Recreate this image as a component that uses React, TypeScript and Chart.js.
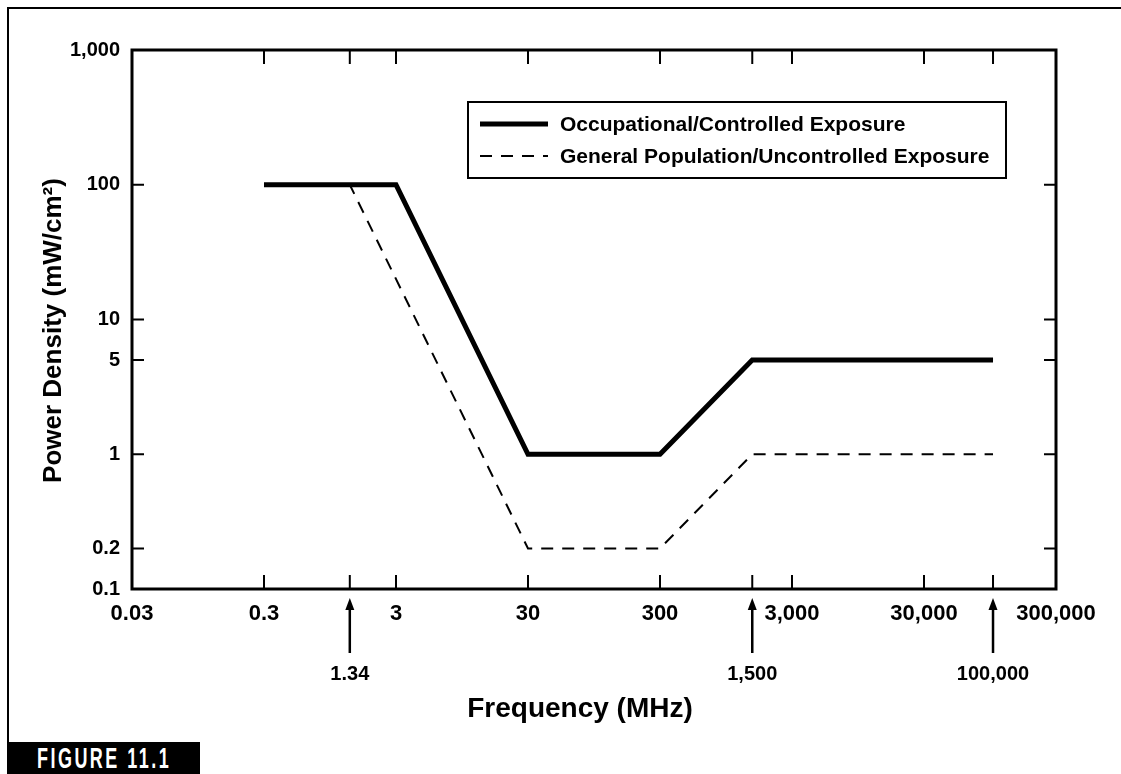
import React, { useEffect, useRef } from "react";
import { Chart, registerables } from "chart.js";

Chart.register(...registerables);

// ---- data ----
const SERIES_NAMES = [
  "Occupational/Controlled Exposure",
  "General Population/Uncontrolled Exposure",
];
const FREQ_OCC = [0.3, 3, 30, 300, 1500, 100000];
const PD_OCC = [100, 100, 1, 1, 5, 5];
const FREQ_GEN = [0.3, 1.34, 30, 300, 1500, 100000];
const PD_GEN = [100, 100, 0.2, 0.2, 1, 1];

const X_TICKS = [0.03, 0.3, 3, 30, 300, 3000, 30000, 300000];
const X_TICK_LABELS = ["0.03", "0.3", "3", "30", "300", "3,000", "30,000", "300,000"];
const X_MARKS = [0.3, 1.34, 3, 30, 300, 1500, 3000, 30000, 100000];
const Y_TICKS = [0.1, 0.2, 1, 5, 10, 100, 1000];
const Y_TICK_LABELS = ["0.1", "0.2", "1", "5", "10", "100", "1,000"];
const Y_MARKS = [0.2, 1, 5, 10, 100];
const ARROW_VALUES = [1.34, 1500, 100000];
const ARROW_LABELS = ["1.34", "1,500", "100,000"];

const X_TITLE = "Frequency (MHz)";
const Y_TITLE = "Power Density (mW/cm²)";
const FIGURE_LABEL = "FIGURE 11.1";

const FONT = "'Liberation Sans', Arial, Helvetica, sans-serif";

const decorPlugin = {
  id: "decor",
  afterDraw(chart: any) {
    const { ctx, chartArea } = chart;
    const xs = chart.scales.x;
    const ys = chart.scales.y;
    const { left, right, top, bottom } = chartArea;
    ctx.save();
    ctx.strokeStyle = "#000";
    ctx.fillStyle = "#000";
    // axis box
    ctx.lineWidth = 3;
    ctx.strokeRect(left, top, right - left, bottom - top);
    // inward ticks
    ctx.lineWidth = 2;
    X_MARKS.forEach((v) => {
      const x = xs.getPixelForValue(v);
      ctx.beginPath();
      ctx.moveTo(x, bottom);
      ctx.lineTo(x, bottom - 14);
      ctx.moveTo(x, top);
      ctx.lineTo(x, top + 14);
      ctx.stroke();
    });
    Y_MARKS.forEach((v) => {
      const y = ys.getPixelForValue(v);
      ctx.beginPath();
      ctx.moveTo(left, y);
      ctx.lineTo(left + 12, y);
      ctx.moveTo(right, y);
      ctx.lineTo(right - 12, y);
      ctx.stroke();
    });
    // arrows with labels
    ARROW_VALUES.forEach((v, i) => {
      const x = xs.getPixelForValue(v);
      ctx.lineWidth = 2.5;
      ctx.beginPath();
      ctx.moveTo(x, bottom + 18);
      ctx.lineTo(x, bottom + 64);
      ctx.stroke();
      ctx.beginPath();
      ctx.moveTo(x, bottom + 9);
      ctx.lineTo(x - 4.5, bottom + 21);
      ctx.lineTo(x + 4.5, bottom + 21);
      ctx.closePath();
      ctx.fill();
      ctx.font = `bold 20px ${FONT}`;
      ctx.textAlign = "center";
      ctx.textBaseline = "middle";
      ctx.fillText(ARROW_LABELS[i], x, bottom + 85);
    });
    // axis titles
    ctx.font = `bold 28px ${FONT}`;
    ctx.textAlign = "center";
    ctx.textBaseline = "middle";
    ctx.fillText(X_TITLE, 580, bottom + 120);
    ctx.save();
    ctx.translate(54, (top + bottom) / 2 + 11);
    ctx.rotate(-Math.PI / 2);
    ctx.font = `bold 26px ${FONT}`;
    ctx.fillText(Y_TITLE, 0, 0);
    ctx.restore();
    // legend
    const lx = 468, ly = 102, lw = 538, lh = 76;
    ctx.lineWidth = 2;
    ctx.fillStyle = "#fff";
    ctx.fillRect(lx, ly, lw, lh);
    ctx.strokeRect(lx, ly, lw, lh);
    ctx.fillStyle = "#000";
    const rows = [ly + 22, ly + 54];
    chart.data.datasets.forEach((ds: any, i: number) => {
      const y = rows[i];
      ctx.lineWidth = ds.borderWidth;
      ctx.setLineDash(ds.borderDash || []);
      ctx.beginPath();
      ctx.moveTo(480, y);
      ctx.lineTo(548, y);
      ctx.stroke();
      ctx.setLineDash([]);
      ctx.font = `bold 21px ${FONT}`;
      ctx.textAlign = "left";
      ctx.textBaseline = "middle";
      ctx.fillText(ds.label, 560, y + 1);
    });
    ctx.restore();
  },
};

export default function App() {
  const ref = useRef<HTMLCanvasElement | null>(null);
  useEffect(() => {
    if (!ref.current) return;
    const chart = new Chart(ref.current, {
      type: "line",
      data: {
        datasets: [
          {
            label: SERIES_NAMES[0],
            data: FREQ_OCC.map((f, i) => ({ x: f, y: PD_OCC[i] })),
            borderColor: "#000",
            borderWidth: 5,
            pointRadius: 0,
            tension: 0,
            fill: false,
          },
          {
            label: SERIES_NAMES[1],
            data: FREQ_GEN.map((f, i) => ({ x: f, y: PD_GEN[i] })),
            borderColor: "#000",
            borderWidth: 2,
            borderDash: [12, 9],
            pointRadius: 0,
            tension: 0,
            fill: false,
          },
        ],
      },
      options: {
        animation: false,
        responsive: false,
        maintainAspectRatio: false,
        layout: { padding: { top: 50, right: 65, left: 0, bottom: 0 } },
        plugins: { legend: { display: false }, tooltip: { enabled: false } },
        scales: {
          x: {
            type: "logarithmic",
            min: 0.03,
            max: 300000,
            afterBuildTicks: (s: any) => {
              s.ticks = X_TICKS.map((v) => ({ value: v }));
            },
            afterFit: (s: any) => {
              s.height = 185;
            },
            grid: { display: false, drawTicks: false },
            border: { display: false },
            ticks: {
              autoSkip: false,
              maxRotation: 0,
              padding: 12,
              color: "#000",
              font: { family: FONT, size: 22, weight: "bold" },
              callback: (v: any) => {
                const i = X_TICKS.findIndex((t) => Math.abs(t - v) / t < 1e-6);
                return i >= 0 ? X_TICK_LABELS[i] : "";
              },
            },
          },
          y: {
            type: "logarithmic",
            min: 0.1,
            max: 1000,
            afterBuildTicks: (s: any) => {
              s.ticks = Y_TICKS.map((v) => ({ value: v }));
            },
            afterFit: (s: any) => {
              s.width = 132;
            },
            grid: { display: false, drawTicks: false },
            border: { display: false },
            ticks: {
              autoSkip: false,
              padding: 12,
              color: "#000",
              font: { family: FONT, size: 20, weight: "bold" },
              callback: (v: any) => {
                const i = Y_TICKS.findIndex((t) => Math.abs(t - v) / t < 1e-6);
                return i >= 0 ? Y_TICK_LABELS[i] : "";
              },
            },
          },
        },
      },
      plugins: [decorPlugin],
    });
    return () => chart.destroy();
  }, []);

  return (
    <div style={{ position: "fixed", left: 0, top: 0, width: 1121, height: 774, background: "#fff", overflow: "hidden" }}>
      <canvas ref={ref} width={1121} height={774} style={{ position: "absolute", left: 0, top: 0 }} />
      <div style={{ position: "absolute", left: 7, top: 7, width: 1114, height: 2, background: "#000" }} />
      <div style={{ position: "absolute", left: 7, top: 7, width: 2, height: 736, background: "#000" }} />
      <div
        style={{
          position: "absolute",
          left: 7,
          top: 742,
          width: 193,
          height: 32,
          background: "#000",
          overflow: "hidden",
        }}
      >
        <span
          style={{
            position: "absolute",
            left: 30,
            top: 0,
            lineHeight: "32px",
            color: "#fff",
            fontFamily: FONT,
            fontWeight: "bold",
            fontSize: 29,
            letterSpacing: 4,
            whiteSpace: "nowrap",
            transform: "scaleX(0.62)",
            transformOrigin: "left center",
          }}
        >
          {FIGURE_LABEL}
        </span>
      </div>
    </div>
  );
}
